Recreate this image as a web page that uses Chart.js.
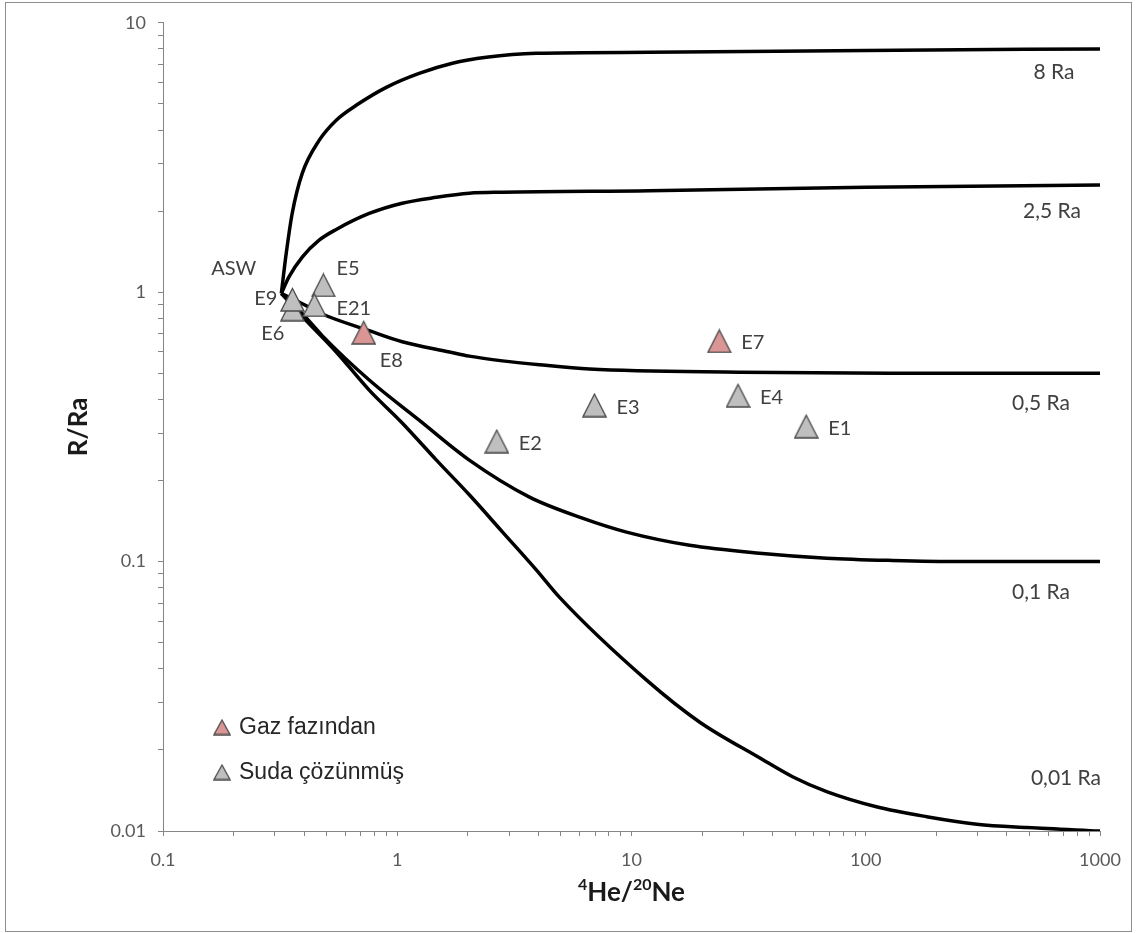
<!DOCTYPE html>
<html>
<head>
<meta charset="utf-8">
<script src="https://cdn.jsdelivr.net/npm/chart.js@4.4.1/dist/chart.umd.min.js"></script>
<style>
  html, body { margin: 0; padding: 0; background: #fff; }
  canvas { display: block; }
</style>
</head>
<body>
<canvas id="heNeChart" width="1140" height="933"></canvas>
<script>
// axis ticks
const xMajorTicks = [0.1, 1, 10, 100, 1000];
const xTickLabels = ['0.1', '1', '10', '100', '1000'];
const yMajorTicks = [0.01, 0.1, 1, 10];
const yTickLabels = ['0.01', '0.1', '1', '10'];

// samples: 4He/20Ne and R/Ra
const sampleNames = ['E1', 'E2', 'E3', 'E4', 'E5', 'E6', 'E7', 'E8', 'E9', 'E21'];
const sampleHeNe = [55.7, 2.66, 6.95, 28.5, 0.484, 0.357, 23.7, 0.719, 0.357, 0.443];
const sampleRRa = [0.318, 0.280, 0.381, 0.414, 1.064, 0.865, 0.659, 0.709, 0.940, 0.897];
const sampleGroup = ['su', 'su', 'su', 'su', 'su', 'su', 'gaz', 'gaz', 'su', 'su'];
const groupNames = { gaz: 'Gaz fazından', su: 'Suda çözünmüş' };

// mixing curves ASW -> end member
const curveNames = ['8 Ra', '2,5 Ra', '0,5 Ra', '0,1 Ra', '0,01 Ra'];
const ra8HeNe = [0.32, 0.336, 0.356, 0.393, 0.464, 0.549, 0.668, 0.898, 1.24, 1.72, 2.40, 3.92, 11.9, 100, 1000];
const ra8RRa = [0.99, 1.40, 1.96, 2.76, 3.66, 4.35, 4.94, 5.76, 6.49, 7.08, 7.45, 7.71, 7.77, 7.9, 8.0];
const ra25HeNe = [0.32, 0.345, 0.393, 0.464, 0.549, 0.759, 1.05, 1.47, 2.03, 2.81, 11.9, 100, 1000];
const ra25RRa = [0.99, 1.14, 1.35, 1.56, 1.71, 1.96, 2.14, 2.25, 2.33, 2.35, 2.38, 2.45, 2.5];
const ra05HeNe = [0.32, 0.381, 0.478, 0.759, 1.05, 1.67, 2.03, 2.81, 4.04, 6.61, 28.9, 127, 1000];
const ra05RRa = [0.99, 0.92, 0.83, 0.72, 0.655, 0.60, 0.579, 0.556, 0.538, 0.519, 0.505, 0.50, 0.50];
const ra01HeNe = [0.32, 0.40, 0.478, 0.759, 1.24, 2.03, 3.67, 6.17, 9.52, 17.7, 35.2, 68.1, 130, 252, 1000];
const ra01RRa = [0.99, 0.82, 0.69, 0.472, 0.335, 0.238, 0.1735, 0.145, 0.1287, 0.115, 0.1075, 0.103, 0.101, 0.1, 0.1];
const ra001HeNe = [0.32, 0.40, 0.549, 0.759, 1.05, 1.47, 2.03, 2.81, 3.93, 4.92, 11.6, 19.5, 35.2, 48.7, 68.1, 111, 182, 298, 488, 1000];
const ra001RRa = [0.99, 0.80, 0.60, 0.433, 0.327, 0.238, 0.177, 0.129, 0.093, 0.0738, 0.0363, 0.0254, 0.0187, 0.0159, 0.0140, 0.0123, 0.0113, 0.0106, 0.0103, 0.0100];

const curveX = [ra8HeNe, ra25HeNe, ra05HeNe, ra01HeNe, ra001HeNe];
const curveY = [ra8RRa, ra25RRa, ra05RRa, ra01RRa, ra001RRa];

// where the text goes relative to its mark (px)
const labelPlace = {
    E5: { dx: 13, dy: -16, align: 'left' },
    E9: { dx: -15, dy: -1, align: 'right' },
    E6: { dx: -8, dy: 24, align: 'right' },
    E21: { dx: 22, dy: 4, align: 'left' },
    E8: { dx: 16, dy: 28, align: 'left' }
};
const defaultPlace = { dx: 22, dy: 2, align: 'left' };
const curvePlace = {
    '8 Ra': { dx: -46, dy: 23 },
    '2,5 Ra': { dx: -48, dy: 26 },
    '0,5 Ra': { dx: -59, dy: 30 },
    '0,1 Ra': { dx: -59, dy: 31 },
    '0,01 Ra': { dx: -34, dy: -53 }
};

function logTicks(majors) {
    const out = [];
    majors.forEach((m, i) => {
        out.push(m);
        if (i < majors.length - 1) {
            for (let k = 2; k <= 9; k++) out.push(m * k);
        }
    });
    return out;
}

function tickText(majors, labels) {
    return (value) => {
        const i = majors.findIndex(m => Math.abs(value - m) < m * 1e-6);
        return i >= 0 ? labels[i] : '';
    };
}

function triangleMarker(w, h, fill, stroke) {
    const c = document.createElement('canvas');
    c.width = w;
    c.height = h;
    const g = c.getContext('2d');
    g.beginPath();
    g.moveTo(w / 2, 1.5);
    g.lineTo(w - 1, h - 1);
    g.lineTo(1, h - 1);
    g.closePath();
    g.fillStyle = fill;
    g.fill();
    g.lineWidth = 1.3;
    g.strokeStyle = stroke;
    g.stroke();
    return c;
}

const groupColors = { gaz: '#d99694', su: '#bfbfbf' };

function sampleSet(group) {
    const idx = sampleNames.map((n, i) => i).filter(i => sampleGroup[i] === group);
    return {
        label: groupNames[group],
        names: idx.map(i => sampleNames[i]),
        data: idx.map(i => ({ x: sampleHeNe[i], y: sampleRRa[i] })),
        pointStyle: triangleMarker(25, 25, groupColors[group], '#4a4a4a'),
        legendMarker: triangleMarker(18, 17, groupColors[group], '#4a4a4a'),
        pointRadius: 12,
        showLine: false,
        order: 0
    };
}

const curveSets = curveNames.map((name, c) => ({
    label: name,
    data: curveX[c].map((x, i) => ({ x: x, y: curveY[c][i] })),
    showLine: true,
    borderColor: '#000',
    borderWidth: 3.5,
    pointRadius: 0,
    cubicInterpolationMode: 'monotone',
    fill: false,
    order: 1
}));

const sampleSets = [sampleSet('gaz'), sampleSet('su')];

const annotate = {
    id: 'annotate',
    afterDatasetsDraw(chart) {
        const { ctx } = chart;
        ctx.save();
        ctx.textBaseline = 'middle';
        ctx.fillStyle = '#404040';
        chart.data.datasets.forEach((ds, di) => {
            const meta = chart.getDatasetMeta(di);
            if (ds.names) {
                ctx.font = '20px Lato';
                meta.data.forEach((pt, i) => {
                    const p = labelPlace[ds.names[i]] || defaultPlace;
                    ctx.textAlign = p.align;
                    ctx.fillText(ds.names[i], pt.x + p.dx, pt.y + p.dy);
                });
            } else {
                const last = meta.data[meta.data.length - 1];
                const p = curvePlace[ds.label];
                ctx.font = '21px Lato';
                ctx.textAlign = 'center';
                ctx.fillText(ds.label, last.x + p.dx, last.y + p.dy);
            }
        });
        // air saturated water, common start of the curves
        const start = chart.getDatasetMeta(sampleSets.length).data[0];
        ctx.font = '20px Lato';
        ctx.textAlign = 'right';
        ctx.fillText('ASW', start.x - 25, start.y - 25);
        ctx.restore();
    },
    afterDraw(chart) {
        const { ctx, chartArea } = chart;
        ctx.save();

        // y title
        ctx.fillStyle = '#1a1a1a';
        ctx.textBaseline = 'middle';
        ctx.textAlign = 'center';
        ctx.font = 'bold 26px Lato';
        ctx.translate(79, (chartArea.top + chartArea.bottom) / 2);
        ctx.rotate(-Math.PI / 2);
        ctx.fillText('R/Ra', 0, 0);
        ctx.setTransform(1, 0, 0, 1, 0, 0);

        // x title with superscript mass numbers
        const parts = [['4', true], ['He/', false], ['20', true], ['Ne', false]];
        const bigFont = 'bold 26px Lato';
        const supFont = 'bold 16px Lato';
        let total = 0;
        parts.forEach(([t, sup]) => {
            ctx.font = sup ? supFont : bigFont;
            total += ctx.measureText(t).width;
        });
        let x = (chartArea.left + chartArea.right) / 2 - total / 2;
        const y = 893;
        ctx.textAlign = 'left';
        parts.forEach(([t, sup]) => {
            ctx.font = sup ? supFont : bigFont;
            ctx.fillText(t, x, sup ? y - 8 : y);
            x += ctx.measureText(t).width;
        });

        // legend
        let ly = chartArea.bottom - 103;
        sampleSets.forEach(ds => {
            const m = ds.legendMarker;
            ctx.drawImage(m, chartArea.left + 50, ly - m.height / 2 - 1);
            ctx.font = '23px "Liberation Sans"';
            ctx.fillStyle = '#262626';
            ctx.fillText(ds.label, chartArea.left + 76, ly);
            ly += 45;
        });

        // outer frame
        ctx.strokeStyle = '#8e8e8e';
        ctx.lineWidth = 1;
        ctx.strokeRect(5.5, 2.5, 1126, 929);
        ctx.restore();
    }
};

const axisColor = '#868686';

new Chart(document.getElementById('heNeChart'), {
    type: 'scatter',
    data: { datasets: [...sampleSets, ...curveSets] },
    plugins: [annotate],
    options: {
        responsive: false,
        animation: false,
        devicePixelRatio: 1,
        events: [],
        layout: { padding: { top: 22, right: 40, left: 0, bottom: 0 } },
        plugins: {
            legend: { display: false },
            tooltip: { enabled: false }
        },
        scales: {
            x: {
                type: 'logarithmic',
                min: 0.1,
                max: 1000,
                afterBuildTicks: (s) => { s.ticks = logTicks(xMajorTicks).map(v => ({ value: v })); },
                afterFit: (s) => { s.height = 102; },
                grid: { drawOnChartArea: false, tickLength: 5, color: axisColor },
                border: { color: axisColor, width: 1 },
                ticks: {
                    autoSkip: false,
                    maxRotation: 0,
                    padding: 13,
                    color: '#595959',
                    font: { family: 'Lato', size: 18 },
                    callback: tickText(xMajorTicks, xTickLabels)
                }
            },
            y: {
                type: 'logarithmic',
                min: 0.01,
                max: 10,
                afterBuildTicks: (s) => { s.ticks = logTicks(yMajorTicks).map(v => ({ value: v })); },
                afterFit: (s) => { s.width = 163; },
                grid: { drawOnChartArea: false, tickLength: 5, color: axisColor },
                border: { color: axisColor, width: 1 },
                ticks: {
                    autoSkip: false,
                    padding: 12,
                    color: '#595959',
                    font: { family: 'Lato', size: 18 },
                    callback: tickText(yMajorTicks, yTickLabels)
                }
            }
        }
    }
});
</script>
</body>
</html>
